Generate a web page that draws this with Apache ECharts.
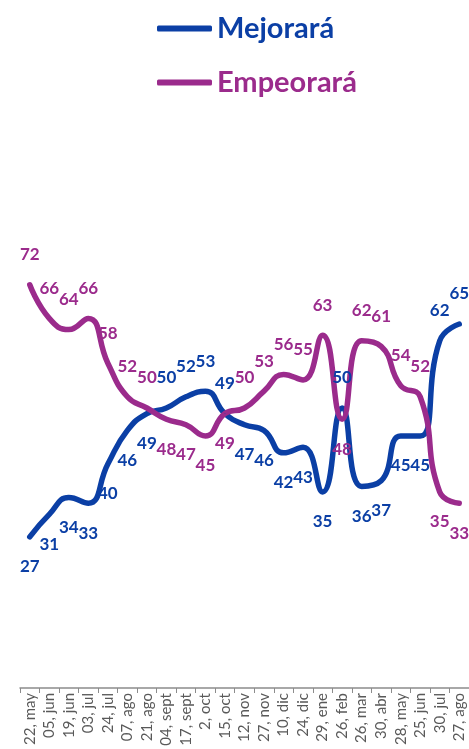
<!DOCTYPE html>
<html><head><meta charset="utf-8">
<script src="https://cdn.jsdelivr.net/npm/echarts@6/dist/echarts.min.js"></script>
<style>html,body{margin:0;padding:0;background:#fff}#c{width:469px;height:749px}</style>
</head><body><div id="c"></div>
<script>
const categories = ['22, may','05, jun','19, jun','03, jul','24, jul','07, ago','21, ago','04, sept','17, sept','2, oct','15, oct','12, nov','27, nov','10, dic','24, dic','29, ene','26, feb','26, mar','30, abr','28, may','25, jun','30, jul','27, ago'];
const mejorara = [27,31,34,33,40,46,49,50,52,53,49,47,46,42,43,35,50,36,37,45,45,62,65];
const empeorara = [72,66,64,66,58,52,50,48,47,45,49,50,53,56,55,63,48,62,61,54,52,35,33];

const BLUE = '#0B3FA5', PURPLE = '#9B2B8C';
const FONT = 'Lato';

function build(vals, other, isEmp) {
  return vals.map((v, i) => {
    const o = other[i];
    const above = isEmp ? v > o : v >= o;
    return { value: v, label: { position: above ? 'top' : 'bottom' } };
  });
}

const chart = echarts.init(document.getElementById('c'), null, {renderer: 'canvas'});
chart.setOption({
  animation: false,
  legend: {
    orient: 'vertical', left: 152, top: 9, itemGap: 25,
    itemWidth: 55, itemHeight: 6, icon: 'roundRect',
    textStyle: { fontFamily: FONT, fontWeight: 'bold', fontSize: 29 },
    data: [
      { name: 'Mejorará', textStyle: { color: BLUE } },
      { name: 'Empeorará', textStyle: { color: PURPLE } }
    ]
  },
  grid: { left: 20, width: 453, top: 128, bottom: 61 },
  xAxis: {
    type: 'category', data: categories, boundaryGap: true,
    axisLine: { lineStyle: { color: '#8c8c8c', width: 1.5 } },
    axisTick: { show: true, length: 5, lineStyle: { color: '#8c8c8c' } },
    axisLabel: { rotate: 90, interval: 0, margin: 5, color: '#595959', fontFamily: FONT, fontSize: 15 }
  },
  yAxis: { type: 'value', min: 0, max: 100, show: false, splitLine: { show: false } },
  series: [
    {
      name: 'Mejorará', type: 'line', smooth: 0.5, data: build(mejorara, empeorara, false),
      symbol: 'circle', symbolSize: 1, color: BLUE,
      lineStyle: { width: 5.5, color: BLUE, cap: 'round' },
      label: { show: true, distance: 21, color: BLUE, fontFamily: FONT, fontWeight: 'bold', fontSize: 17 }
    },
    {
      name: 'Empeorará', type: 'line', smooth: 0.5, data: build(empeorara, mejorara, true),
      symbol: 'circle', symbolSize: 1, color: PURPLE,
      lineStyle: { width: 5.5, color: PURPLE, cap: 'round' },
      label: { show: true, distance: 21, color: PURPLE, fontFamily: FONT, fontWeight: 'bold', fontSize: 17 }
    }
  ]
});
</script></body></html>
